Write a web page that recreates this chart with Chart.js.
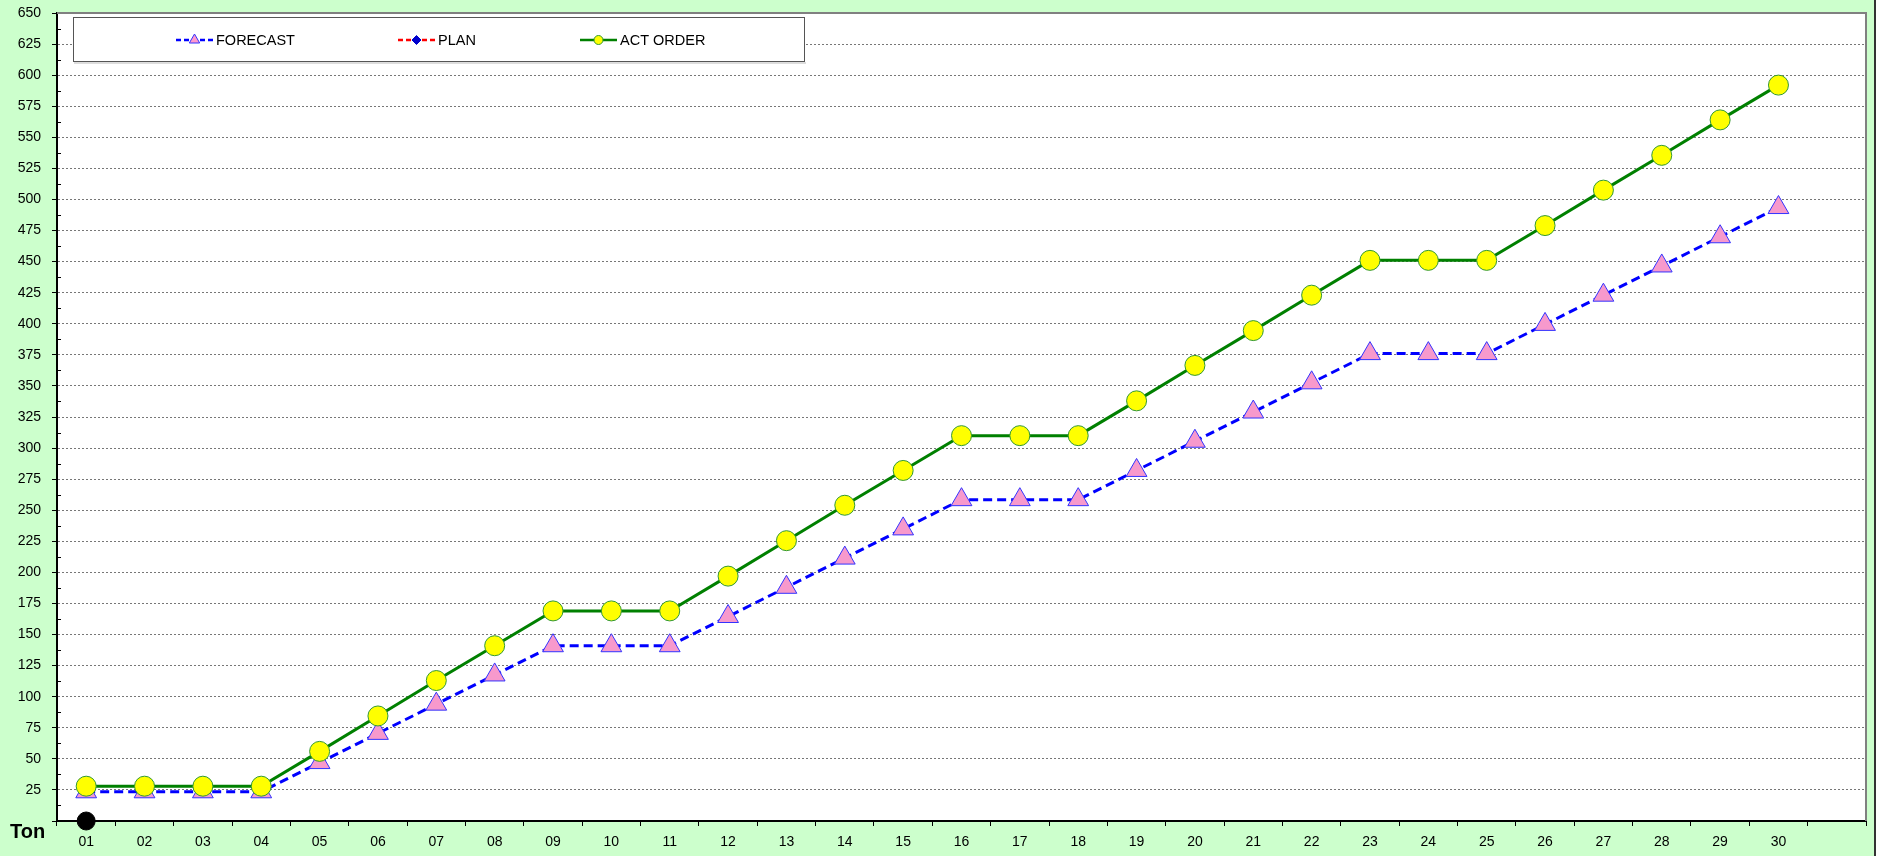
<!DOCTYPE html>
<html>
<head>
<meta charset="UTF-8">
<title>Forecast vs Act Order</title>
<script src="https://cdn.jsdelivr.net/npm/chart.js"></script>
<style>
  html, body { margin: 0; padding: 0; background: #ccffcc; }
  #wrap { width: 1879px; height: 856px; position: relative; }
</style>
</head>
<body>
<div id="wrap"><canvas id="chart"></canvas></div>
<script>
// day labels (last slot is empty on the original axis)
const days = ['01','02','03','04','05','06','07','08','09','10','11','12','13','14','15',
              '16','17','18','19','20','21','22','23','24','25','26','27','28','29','30',''];

const forecast = [23.5, 23.5, 23.5, 23.5, 47, 70.5, 94, 117.5, 141, 141, 141, 164.5, 188, 211.5, 235,
                  258.5, 258.5, 258.5, 282, 305.5, 329, 352.5, 376, 376, 376, 399.5, 423, 446.5, 470, 493.5, null];
const plan = [];
const actOrder = [28, 28, 28, 28, 56, 84.5, 113, 141, 169, 169, 169, 197, 225.5, 254, 282,
                  310, 310, 310, 338, 366.5, 394.5, 423, 451, 451, 451, 479, 507.5, 535.5, 564, 592, null];
const baseDot = [0];

const yMin = 0, yMax = 650, yStep = 25;

const FONT = 'Liberation Sans, Arial, sans-serif';

const frame = {
  id: 'frame',
  beforeDraw(chart) {
    const { ctx, chartArea: a, width, height } = chart;
    ctx.save();
    ctx.fillStyle = '#ccffcc';
    ctx.fillRect(0, 0, width, height);
    ctx.fillStyle = '#ffffff';
    ctx.fillRect(a.left, a.top, a.right - a.left, a.bottom - a.top);
    // dark edge at far right
    ctx.fillStyle = '#ffffff';
    ctx.fillRect(1876, 0, width - 1876, height);
    ctx.strokeStyle = '#333';
    ctx.lineWidth = 2;
    ctx.beginPath(); ctx.moveTo(1875, 0); ctx.lineTo(1875, height); ctx.stroke();
    ctx.restore();
  },
  afterDraw(chart) {
    const { ctx, chartArea: a } = chart;
    const y = chart.scales.y;
    ctx.save();
    // plot border top/right
    ctx.strokeStyle = '#808080';
    ctx.lineWidth = 2;
    ctx.beginPath();
    ctx.moveTo(a.left, a.top); ctx.lineTo(a.right, a.top); ctx.lineTo(a.right, a.bottom);
    ctx.stroke();
    // minor ticks on y axis
    ctx.strokeStyle = '#000';
    ctx.lineWidth = 1;
    for (let v = yMin + yStep / 2; v < yMax; v += yStep) {
      const py = Math.round(y.getPixelForValue(v)) + 0.5;
      ctx.beginPath(); ctx.moveTo(a.left, py); ctx.lineTo(a.left + 4, py); ctx.stroke();
    }
    // unit label
    ctx.fillStyle = '#000';
    ctx.font = 'bold 20px ' + FONT;
    ctx.textAlign = 'left';
    ctx.textBaseline = 'middle';
    ctx.fillText('Ton', 10, 832);

    // legend box
    const lx = 73, ly = 17, lw = 731, lh = 44;
    ctx.fillStyle = '#fff';
    ctx.fillRect(lx, ly, lw, lh);
    ctx.strokeStyle = '#555';
    ctx.lineWidth = 1;
    ctx.strokeRect(lx + 0.5, ly + 0.5, lw, lh);
    ctx.strokeStyle = '#bbb';
    ctx.beginPath(); ctx.moveTo(lx + 1, ly + lh + 2); ctx.lineTo(lx + lw + 2, ly + lh + 2); ctx.stroke();

    const cy = ly + 23;
    const items = [
      { x: 176, text: 'FORECAST', color: '#0000ff', dash: [5, 3], style: 'triangle', fill: '#ff99cc', border: '#3333ff' },
      { x: 398, text: 'PLAN', color: '#ff0000', dash: [5, 3], style: 'rectRot', fill: '#0000cc', border: '#0000cc' },
      { x: 580, text: 'ACT ORDER', color: '#008000', dash: [], style: 'circle', fill: '#ffff00', border: '#339933' }
    ];
    ctx.font = '14.5px ' + FONT;
    items.forEach(it => {
      ctx.save();
      ctx.strokeStyle = it.color;
      ctx.lineWidth = 2.5;
      ctx.setLineDash(it.dash);
      ctx.beginPath(); ctx.moveTo(it.x, cy); ctx.lineTo(it.x + 37, cy); ctx.stroke();
      ctx.restore();
      ctx.fillStyle = it.fill;
      ctx.strokeStyle = it.border;
      ctx.lineWidth = 1;
      Chart.helpers.drawPoint(ctx, { pointStyle: it.style, radius: it.style === 'triangle' ? 6 : 4.5, borderWidth: 1, rotation: 0 }, it.x + 18.5, cy);
      ctx.fillStyle = '#000';
      ctx.textAlign = 'left';
      ctx.textBaseline = 'middle';
      ctx.fillText(it.text, it.x + 40, cy + 1);
    });
    ctx.restore();
  }
};

new Chart(document.getElementById('chart'), {
  type: 'line',
  data: {
    labels: days,
    datasets: [
      {
        label: 'ACT ORDER',
        data: actOrder,
        order: 1,
        borderColor: '#008000',
        borderWidth: 3,
        pointStyle: 'circle',
        pointRadius: 10,
        pointBackgroundColor: '#ffff00',
        pointBorderColor: '#339933',
        pointBorderWidth: 1,
        tension: 0
      },
      {
        label: 'FORECAST',
        data: forecast,
        order: 2,
        borderColor: '#0000ff',
        borderWidth: 3,
        borderDash: [9, 5],
        pointStyle: 'triangle',
        pointRadius: 12,
        pointBackgroundColor: '#f799cc',
        pointBorderColor: '#3333ff',
        pointBorderWidth: 1,
        tension: 0
      },
      {
        label: 'PLAN',
        data: plan,
        order: 3,
        borderColor: '#ff0000',
        borderDash: [8, 5],
        pointStyle: 'rectRot',
        pointBackgroundColor: '#0000cc'
      },
      {
        label: '',
        data: baseDot,
        order: 0,
        showLine: false,
        clip: false,
        pointRadius: 9,
        pointBackgroundColor: '#000',
        pointBorderColor: '#000'
      }
    ]
  },
  options: {
    responsive: true,
    maintainAspectRatio: false,
    animation: false,
    layout: { padding: { top: 13, right: 11, left: 0, bottom: 0 } },
    plugins: { legend: { display: false }, tooltip: { enabled: false } },
    scales: {
      x: {
        offset: true,
        grid: { drawOnChartArea: false, drawTicks: true, tickLength: 5, tickColor: '#000', offset: true },
        border: { display: true, color: '#000', width: 2 },
        ticks: { color: '#000', font: { family: FONT, size: 14 }, padding: 8, maxRotation: 0, autoSkip: false },
        afterFit(scale) { scale.height = 35; }
      },
      y: {
        min: yMin,
        max: yMax,
        ticks: {
          stepSize: yStep, color: '#000', font: { family: FONT, size: 14 }, padding: 11,
          callback: v => (v === 0 ? '' : v)
        },
        grid: { color: '#777', lineWidth: 1, tickLength: 5, tickColor: '#000' },
        border: { display: true, color: '#000', width: 2, dash: [2, 2] },
        afterFit(scale) { scale.width = 57; scale.paddingTop = 0; scale.paddingBottom = 0; }
      }
    }
  },
  plugins: [frame]
});
</script>
</body>
</html>
